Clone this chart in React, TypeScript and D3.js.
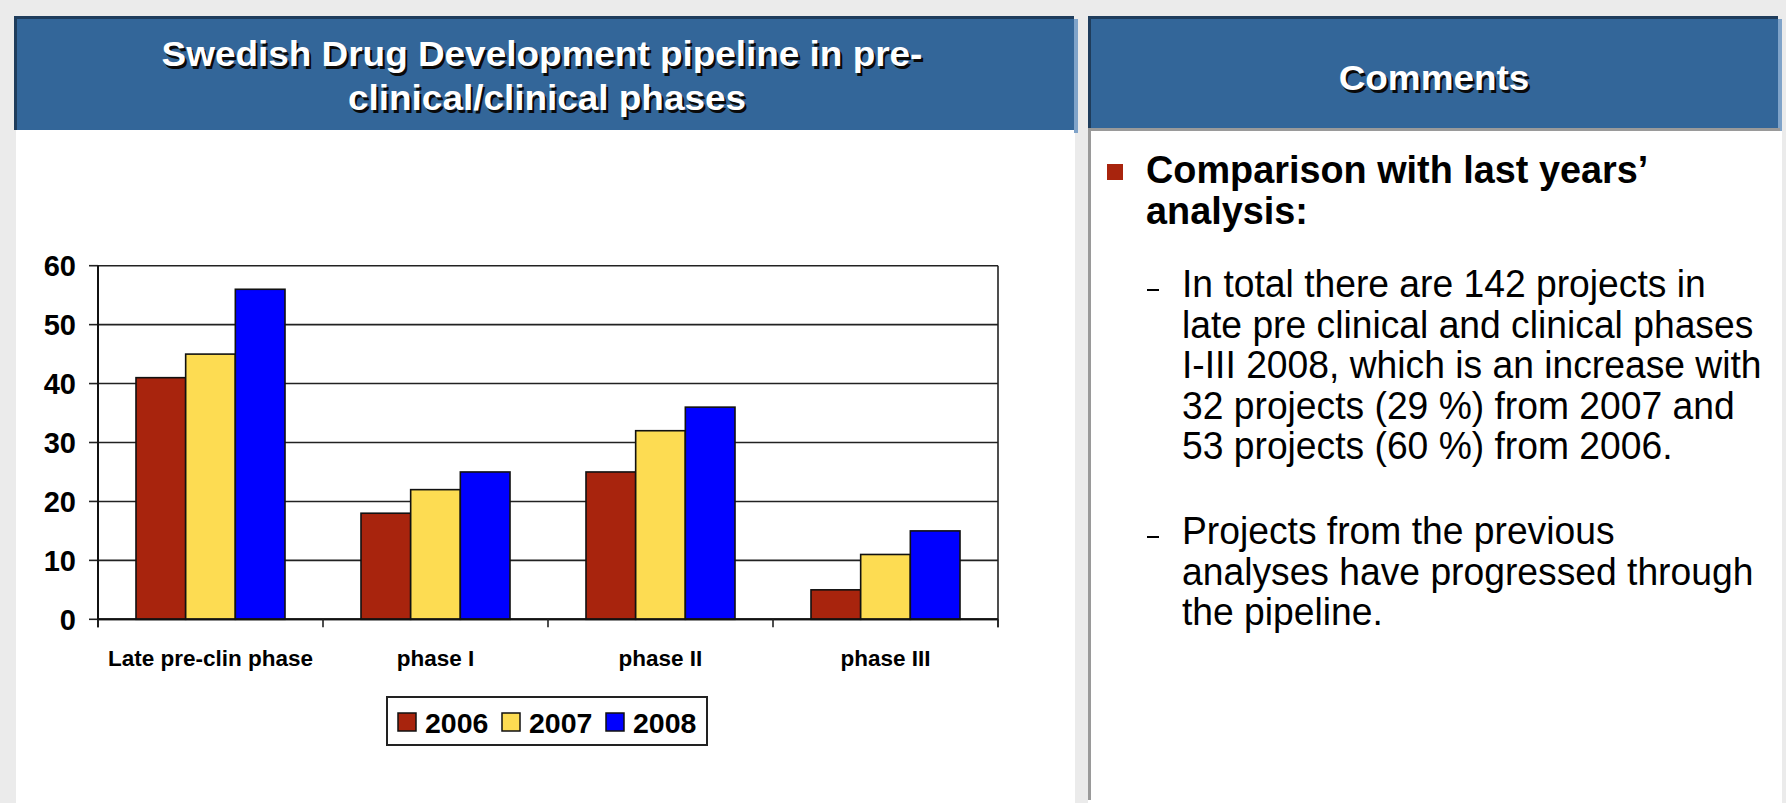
import React from 'react';
import * as d3 from 'd3';

const categories = ['Late pre-clin phase', 'phase I', 'phase II', 'phase III'];
const seriesNames = ['2006', '2007', '2008'];
const values2006 = [41, 18, 25, 5];
const values2007 = [45, 22, 32, 11];
const values2008 = [56, 25, 36, 15];
const yTicks = [0, 10, 20, 30, 40, 50, 60];
const titleLines = ['Swedish Drug Development pipeline in pre-', 'clinical/clinical phases'];
const commentsTitle = 'Comments';
const bulletLines = ['Comparison with last years\u2019', 'analysis:'];
const item1Lines = [
  'In total there are 142 projects in',
  'late pre clinical and clinical phases',
  'I-III 2008, which is an increase with',
  '32 projects (29 %) from 2007 and',
  '53 projects (60 %) from 2006.',
];
const item2Lines = ['Projects from the previous', 'analyses have progressed through', 'the pipeline.'];

const seriesValues = [values2006, values2007, values2008];
const seriesColors = ['#A8240D', '#FDDC52', '#0000FF'];

const FONT = '"Liberation Sans", Arial, Helvetica, sans-serif';
const W = 1786;
const H = 803;

const PLOT = { left: 98, right: 998, top: 265.7, bottom: 619.3 };

function ShadowText({ x, y, size, children, sx = 1 }: any) {
  return (
    <g transform={`translate(${x},${y}) scale(${sx},1)`}>
      <text x={2} y={2.5} textAnchor="middle" fontFamily={FONT} fontWeight="bold" fontSize={size} fill="#0a0a0a">
        {children}
      </text>
      <text x={0} y={0} textAnchor="middle" fontFamily={FONT} fontWeight="bold" fontSize={size} fill="#fff">
        {children}
      </text>
    </g>
  );
}

function SText({ x, y, size, sx = 1, bold = false, children }: any) {
  return (
    <g transform={`translate(${x},${y}) scale(${sx},1)`}>
      <text x={0} y={0} fontFamily={FONT} fontWeight={bold ? 'bold' : 'normal'} fontSize={size} fill="#000">
        {children}
      </text>
    </g>
  );
}

export default function App() {
  const x0 = d3.scaleBand<string>().domain(categories).range([PLOT.left, PLOT.right]).padding(0);
  const x1 = d3
    .scaleBand<string>()
    .domain(seriesNames)
    .range([0, x0.bandwidth()])
    .paddingInner(0)
    .paddingOuter(0.765);
  const y = d3.scaleLinear().domain([0, 60]).range([PLOT.bottom, PLOT.top]);

  const catBounds = [...categories.map((c) => x0(c) as number), PLOT.right];

  const bodyBase1 = [297, 337.5, 378, 418.5, 459];
  const bodyBase2 = [544, 584.5, 625];

  return (
    <svg
      width={W}
      height={H}
      viewBox={`0 0 ${W} ${H}`}
      style={{ position: 'absolute', left: 0, top: 0, display: 'block' }}
    >
      <rect x={0} y={0} width={W} height={H} fill="#EBEBEB" />

      {/* Left panel */}
      <rect x={16} y={128} width={1059} height={H - 128} fill="#FFFFFF" />
      <rect x={1074} y={19} width={4} height={114} fill="#7FA3C9" />
      <rect x={16} y={16} width={1058} height={114} fill="#336699" />
      <rect x={16} y={16} width={1058} height={3} fill="#1F3D5C" />
      <rect x={14} y={16} width={3} height={114} fill="#1F3D5C" />

      {/* Right panel */}
      <rect x={1088} y={128} width={694} height={H - 128} fill="#FFFFFF" />
      <rect x={1088} y={128} width={3} height={H - 131} fill="#9A9A9A" />
      <rect x={1778} y={19} width={4} height={112} fill="#7FA3C9" />
      <rect x={1088} y={16} width={690} height={112} fill="#336699" />
      <rect x={1088} y={16} width={690} height={3} fill="#1F3D5C" />
      <rect x={1088} y={16} width={3} height={112} fill="#1F3D5C" />
      <rect x={1088} y={128} width={692} height={3} fill="#9A9A9A" />

      {/* Titles */}
      <ShadowText x={542} y={66} size={35.5} sx={1.04}>
        {titleLines[0]}
      </ShadowText>
      <ShadowText x={547} y={110} size={35.5} sx={1.04}>
        {titleLines[1]}
      </ShadowText>
      <ShadowText x={1434} y={90} size={35.5} sx={1.04}>
        {commentsTitle}
      </ShadowText>

      {/* Chart gridlines and y ticks */}
      {yTicks.map((t) => (
        <g key={'g' + t}>
          <line x1={PLOT.left} x2={PLOT.right} y1={y(t)} y2={y(t)} stroke="#222" strokeWidth={t === 0 ? 2 : 1.6} />
          <line x1={PLOT.left - 9} x2={PLOT.left} y1={y(t)} y2={y(t)} stroke="#222" strokeWidth={1.6} />
          <text
            x={76}
            y={y(t)}
            dy="0.36em"
            textAnchor="end"
            fontFamily={FONT}
            fontWeight="bold"
            fontSize={29}
            fill="#000"
          >
            {t}
          </text>
        </g>
      ))}

      {/* Bars */}
      {categories.map((c, ci) => (
        <g key={c} transform={`translate(${x0(c)},0)`}>
          {seriesNames.map((s, si) => {
            const v = seriesValues[si][ci];
            return (
              <rect
                key={s}
                x={x1(s)}
                y={y(v)}
                width={x1.bandwidth()}
                height={y(0) - y(v)}
                fill={seriesColors[si]}
                stroke="#111"
                strokeWidth={1.6}
              />
            );
          })}
        </g>
      ))}

      {/* Axes */}
      <line x1={PLOT.left} x2={PLOT.left} y1={PLOT.top} y2={PLOT.bottom + 8} stroke="#111" strokeWidth={2} />
      <line x1={PLOT.right} x2={PLOT.right} y1={PLOT.top} y2={PLOT.bottom + 8} stroke="#222" strokeWidth={1.6} />
      <line x1={PLOT.left} x2={PLOT.right} y1={PLOT.bottom} y2={PLOT.bottom} stroke="#111" strokeWidth={2} />
      {catBounds.map((b, i) => (
        <line key={'ct' + i} x1={b} x2={b} y1={PLOT.bottom} y2={PLOT.bottom + 8} stroke="#222" strokeWidth={1.6} />
      ))}

      {/* Category labels */}
      {categories.map((c) => (
        <text
          key={'l' + c}
          x={(x0(c) as number) + x0.bandwidth() / 2}
          y={666}
          textAnchor="middle"
          fontFamily={FONT}
          fontWeight="bold"
          fontSize={22.5}
          fill="#000"
        >
          {c}
        </text>
      ))}

      {/* Legend */}
      <rect x={387} y={697} width={320} height={48} fill="#fff" stroke="#222" strokeWidth={2} />
      {seriesNames.map((s, si) => (
        <g key={'lg' + s} transform={`translate(${398 + si * 104},0)`}>
          <rect x={0} y={713} width={18} height={18} fill={seriesColors[si]} stroke="#111" strokeWidth={1.5} />
          <text x={27} y={732.5} fontFamily={FONT} fontWeight="bold" fontSize={28.5} fill="#000">
            {s}
          </text>
        </g>
      ))}

      {/* Comments */}
      <rect x={1107} y={164} width={16} height={16} fill="#A8240D" />
      {bulletLines.map((l, i) => (
        <SText key={'b' + i} x={1146} y={183 + i * 41} size={39} sx={0.97} bold>
          {l}
        </SText>
      ))}
      <rect x={1147} y={bodyBase1[0] - 8} width={12} height={2} fill="#000" />
      {item1Lines.map((l, i) => (
        <SText key={'i1' + i} x={1182} y={bodyBase1[i]} size={39} sx={0.955}>
          {l}
        </SText>
      ))}
      <rect x={1147} y={bodyBase2[0] - 8} width={12} height={2} fill="#000" />
      {item2Lines.map((l, i) => (
        <SText key={'i2' + i} x={1182} y={bodyBase2[i]} size={39} sx={0.955}>
          {l}
        </SText>
      ))}
    </svg>
  );
}
